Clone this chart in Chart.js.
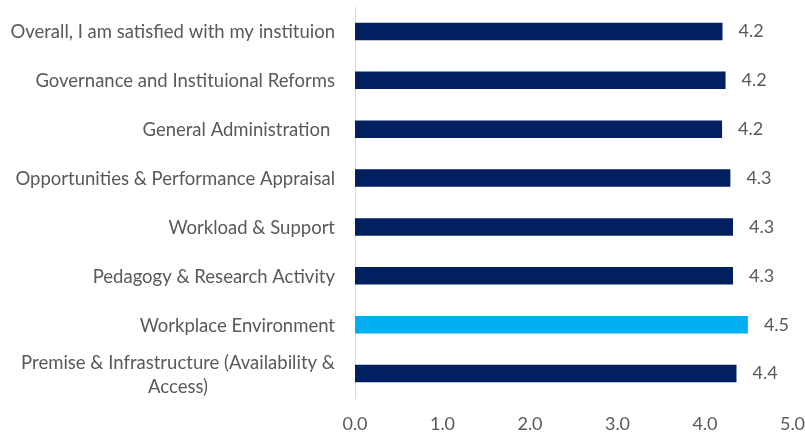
<!DOCTYPE html>
<html>
<head>
<meta charset="utf-8">
<script src="https://cdn.jsdelivr.net/npm/chart.js@4.4.0/dist/chart.umd.min.js"></script>
<style>
  html, body { margin: 0; padding: 0; background: #fff; }
  #wrap { width: 805px; height: 436px; }
</style>
</head>
<body>
<div id="wrap"><canvas id="chart"></canvas></div>
<script>
// categories top to bottom
const categories = [
  ["Overall, I am satisfied with my instituion"],
  ["Governance and Instituional Reforms"],
  ["General Administration "],
  ["Opportunities & Performance Appraisal"],
  ["Workload & Support"],
  ["Pedagogy & Research Activity"],
  ["Workplace Environment"],
  ["Premise & Infrastructure (Availability &", "Access)"]
];
const scores = [4.2, 4.235, 4.195, 4.29, 4.32, 4.32, 4.49, 4.36];
const barColors = ["#002060", "#002060", "#002060", "#002060", "#002060", "#002060", "#00B0F0", "#002060"];
const xTicks = [0, 1, 2, 3, 4, 5];

const textColor = "#595959";
const fontFamily = "Lato, 'Open Sans', sans-serif";

// value labels at the end of each bar
const valueLabels = {
  id: 'valueLabels',
  afterDatasetsDraw(chart) {
    const ctx = chart.ctx;
    const meta = chart.getDatasetMeta(0);
    ctx.save();
    ctx.font = "18px " + fontFamily;
    ctx.fillStyle = textColor;
    ctx.textAlign = "left";
    ctx.textBaseline = "middle";
    meta.data.forEach((bar, i) => {
      ctx.fillText(scores[i].toFixed(1), bar.x + 16, bar.y);
    });
    ctx.restore();
  }
};

// category labels: right aligned, wrapped lines centred on each other
const categoryLabels = {
  id: 'categoryLabels',
  afterDraw(chart) {
    const ctx = chart.ctx;
    const yScale = chart.scales.y;
    const right = chart.chartArea.left - 20;
    ctx.save();
    ctx.font = "18.5px " + fontFamily;
    ctx.fillStyle = textColor;
    ctx.textBaseline = "middle";
    ctx.textAlign = "center";
    categories.forEach((lines, i) => {
      const y = yScale.getPixelForValue(i) + 1;
      const widest = Math.max(...lines.map(l => ctx.measureText(l).width));
      const cx = right - widest / 2;
      const lh = 24;
      const y0 = y - (lines.length - 1) * lh / 2;
      lines.forEach((l, j) => ctx.fillText(l, cx, y0 + j * lh));
    });
    ctx.restore();
  }
};

new Chart(document.getElementById("chart"), {
  type: 'bar',
  data: {
    labels: categories.map(c => c.join(" ")),
    datasets: [{
      data: scores,
      backgroundColor: barColors,
      borderWidth: 0,
      barPercentage: 0.36,
      categoryPercentage: 1
    }]
  },
  options: {
    indexAxis: 'y',
    responsive: true,
    maintainAspectRatio: false,
    animation: { duration: 0 },
    layout: { padding: { top: 7, right: 0, bottom: 0, left: 0 } },
    scales: {
      x: {
        min: 0,
        max: 5,
        afterBuildTicks: s => { s.ticks = xTicks.map(v => ({ value: v })); },
        grid: { display: false, drawTicks: false },
        border: { display: false },
        ticks: {
          color: textColor,
          font: { family: fontFamily, size: 18 },
          padding: 15,
          maxRotation: 0,
          callback: v => v.toFixed(1)
        },
        afterFit: s => { s.height = 38; s.paddingRight = 12.5; }
      },
      y: {
        grid: { display: false, drawTicks: false },
        border: { display: true, color: "#d9d9d9", width: 1 },
        ticks: { display: false },
        afterFit: s => { s.width = 355; s.paddingTop = 0; s.paddingBottom = 0; }
      }
    },
    plugins: {
      legend: { display: false },
      tooltip: { enabled: false }
    }
  },
  plugins: [valueLabels, categoryLabels]
});
</script>
</body>
</html>
